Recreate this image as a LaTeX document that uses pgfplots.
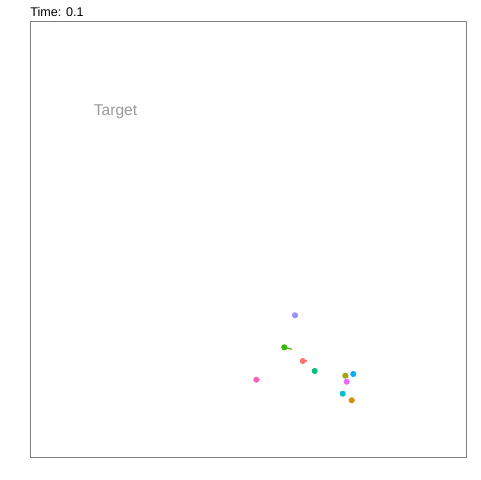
\documentclass[border=0pt]{standalone}
\usepackage{fontspec}
\setmainfont{Liberation Sans}
\usepackage{pgfplots}
\pgfplotsset{compat=1.18}
\usetikzlibrary{calc}
\definecolor{c1}{HTML}{F8766D}
\definecolor{c2}{HTML}{D89000}
\definecolor{c3}{HTML}{A3A500}
\definecolor{c4}{HTML}{39B600}
\definecolor{c5}{HTML}{00BF7D}
\definecolor{c6}{HTML}{00BFC4}
\definecolor{c7}{HTML}{00B0F6}
\definecolor{c8}{HTML}{9590FF}
\definecolor{c9}{HTML}{E76BF3}
\definecolor{c10}{HTML}{FF62BC}
\begin{document}
\begin{tikzpicture}
\begin{axis}[name=ax, scale only axis, width=218pt, height=218pt,
  xmin=0, xmax=436, ymin=0, ymax=436,
  axis line style={draw=black!50, line width=0.5pt},
  xtick=\empty, ytick=\empty, clip=false]
% short trails (current position -> earlier position)
\addplot[c4, line width=0.6pt, no marks] coordinates {(254.3,110.7) (261.7,108.7)};
\addplot[c1, line width=0.6pt, no marks] coordinates {(272.7,97) (276.7,97)};
\addplot[c3, line width=0.6pt, no marks] coordinates {(315.3,82.3) (318.3,80.7)};
\addplot[c10, line width=0.6pt, no marks] coordinates {(226.3,78.3) (230,78.3)};
% points
\addplot[only marks, mark=*, mark size=1.3pt, c8, mark options={draw=c8, fill=c8}] coordinates {(265,142.7)};
\addplot[only marks, mark=*, mark size=1.3pt, c4, mark options={draw=c4, fill=c4}] coordinates {(254.3,110.7)};
\addplot[only marks, mark=*, mark size=1.3pt, c1, mark options={draw=c1, fill=c1}] coordinates {(272.7,97)};
\addplot[only marks, mark=*, mark size=1.3pt, c5, mark options={draw=c5, fill=c5}] coordinates {(284.7,87)};
\addplot[only marks, mark=*, mark size=1.3pt, c3, mark options={draw=c3, fill=c3}] coordinates {(315.3,82.3)};
\addplot[only marks, mark=*, mark size=1.3pt, c7, mark options={draw=c7, fill=c7}] coordinates {(323.3,84)};
\addplot[only marks, mark=*, mark size=1.3pt, c9, mark options={draw=c9, fill=c9}] coordinates {(316.7,76.3)};
\addplot[only marks, mark=*, mark size=1.3pt, c10, mark options={draw=c10, fill=c10}] coordinates {(226.3,78.3)};
\addplot[only marks, mark=*, mark size=1.3pt, c6, mark options={draw=c6, fill=c6}] coordinates {(312.7,64.3)};
\addplot[only marks, mark=*, mark size=1.3pt, c2, mark options={draw=c2, fill=c2}] coordinates {(321.7,57.7)};
\node[text=black!40, font=\fontsize{7.8}{8}\selectfont, inner sep=0pt] at (axis cs:85.5,346) {Target};
\node[anchor=base west, inner sep=0pt, yshift=2.6pt, font=\fontsize{6.3}{7}\selectfont] at (rel axis cs:0,1) {Time: 0.1};
\end{axis}
\useasboundingbox ($(ax.south west)+(-15pt,-11pt)$) rectangle ($(ax.north east)+(7pt,11pt)$);
\end{tikzpicture}
\end{document}
